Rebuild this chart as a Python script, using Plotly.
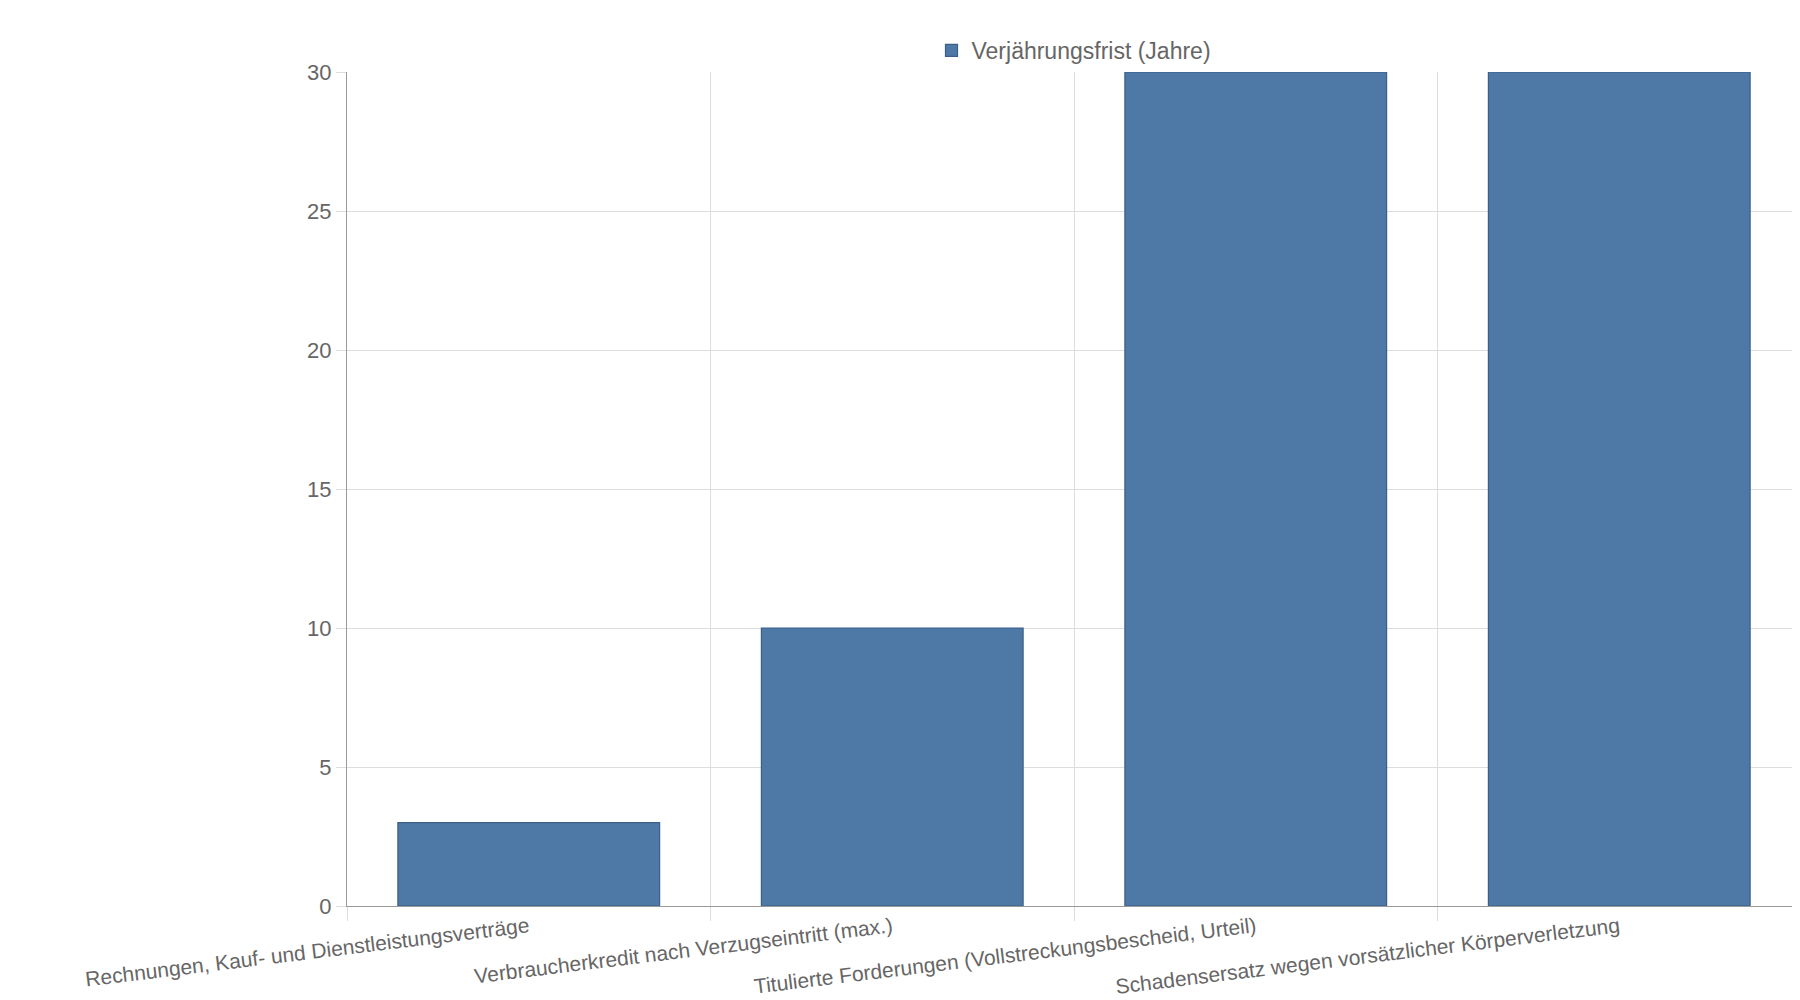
import plotly.graph_objects as go

categories = ["Rechnungen, Kauf- und Dienstleistungsverträge",
              "Verbraucherkredit nach Verzugseintritt (max.)",
              "Titulierte Forderungen (Vollstreckungsbescheid, Urteil)",
              "Schadensersatz wegen vorsätzlicher Körperverletzung"]
values = [3, 10, 30, 30]
series_name = "Verjährungsfrist (Jahre)"

fig = go.Figure(go.Bar(x=categories, y=values, name=series_name, width=0.72,
                       marker=dict(color="#4e79a7", line=dict(color="#3b5f88", width=1.2))))
fig.update_layout(
    width=1800, height=1000, plot_bgcolor="white", paper_bgcolor="white",
    margin=dict(l=339, r=7, t=64, b=102),
    font=dict(family="Liberation Sans, Arial", size=22, color="#666"),
    showlegend=True,
    legend=dict(orientation="h", x=0.5, xanchor="center", y=1.0, yanchor="bottom",
                font=dict(size=23, color="#666")),
    bargap=0.28,
)
fig.update_xaxes(tickson="boundaries", showgrid=True, gridcolor="#ddd", tickangle=-7,
                 showline=True, linecolor="#999", ticks="outside", ticklen=14, tickcolor="#ddd",
                 tickfont=dict(size=21))
fig.update_yaxes(range=[0, 30], dtick=5, showgrid=True, gridcolor="#ddd", showline=True,
                 linecolor="#999", ticks="outside", ticklen=10, tickcolor="#ddd", zeroline=False,
                 tickfont=dict(size=22))
fig.write_html("out.html")
